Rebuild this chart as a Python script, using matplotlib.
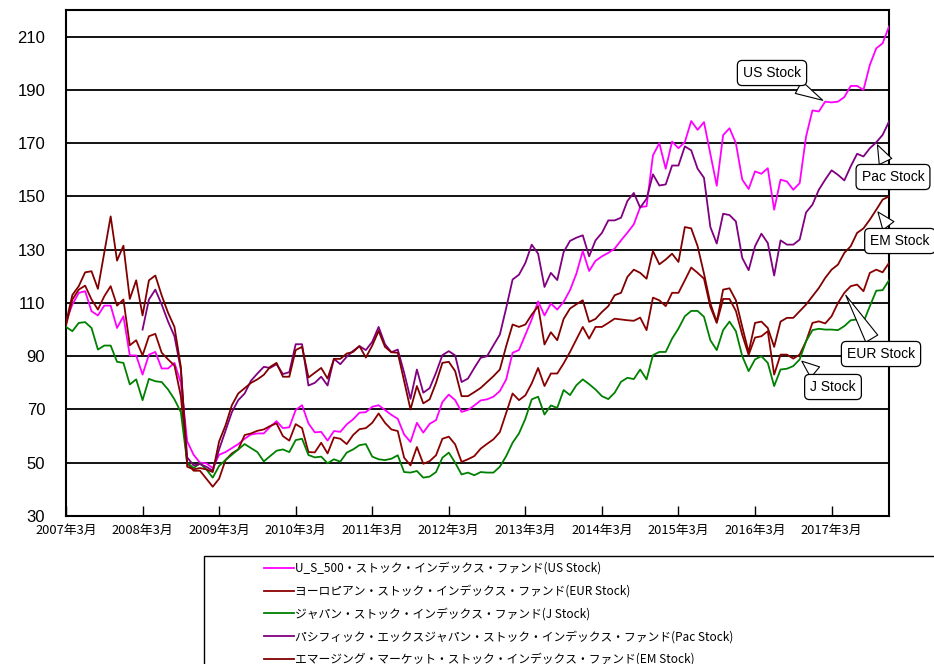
import matplotlib
matplotlib.use('Agg')
import matplotlib.pyplot as plt
from matplotlib.patches import Rectangle
import numpy as np

# monthly index values, 2007/3 .. 2017/12
us_stock = [103, 109.4, 113.8, 114.4, 106.9, 105.3, 109, 109, 100.6, 105,
            90.3, 90.3, 83.1, 90.6, 91.6, 85.4, 85.4, 87.5, 80, 58,
            53, 50, 49.8, 48, 53, 54, 55.5, 57, 59, 60.6,
            61, 61, 63.5, 65.6, 63, 63.3, 69.8, 71.6, 64.8, 61.4,
            61.6, 58.3, 61.9, 61.6, 64.4, 66.3, 68.8, 69, 71, 71.6,
            69.8, 68, 66.5, 60.6, 57.8, 65, 61.3, 64.6, 66, 72.8,
            75.6, 73.5, 69.1, 69.8, 71.5, 73.4, 73.8, 74.8, 76.9, 81.3,
            91.3, 92.3, 98.1, 103.8, 110.6, 105.3, 109.8, 107.5, 110.4, 114.8,
            121, 129.5, 122, 125.8, 127.5, 128.8, 130.4, 133.5, 136.4, 139.5,
            146, 146.3, 165.4, 170, 160.4, 170.6, 168.1, 170.4, 178.3, 175,
            177.9, 166, 154, 173, 175.6, 170, 156.3, 152.8, 159.4, 158.5,
            160.6, 145, 156.3, 155.6, 152.5, 155, 172.5, 182.3, 181.9, 185.6,
            185.3, 185.6, 187.3, 191.5, 191.5, 190, 199.4, 205.6, 207.5, 213.8]

eur_stock = [101.5, 111.3, 115, 116.5, 111.3, 107.5, 112.5, 116.3, 109, 111.3,
             94.1, 96, 90.3, 97.5, 98.4, 91.3, 88.8, 86.5, 75, 50,
             47, 47, 44, 41, 44, 51, 53.5, 55, 60.4, 61,
             62, 62.5, 63.8, 64.8, 60, 58.3, 64.5, 63, 54, 53.9,
             57.5, 53.5, 59.5, 59, 57, 60.4, 62.6, 63, 65, 68.5,
             65, 62.5, 61.9, 51.9, 49, 55.9, 49.6, 50.6, 52.8, 59,
             59.8, 56.9, 50.3, 51.3, 52.5, 55.3, 57.1, 58.8, 61.5, 68.8,
             76, 73.5, 75.3, 79.8, 85.6, 78.8, 83.5, 83.5, 87.3, 91.6,
             96.3, 101, 96.6, 101, 101, 102.5, 104.1, 103.8, 103.5, 103.3,
             104.5, 99.8, 112, 111, 108.8, 113.8, 113.8, 118.5, 123.3, 121.3,
             119.1, 108.5, 102.5, 111.5, 111.5, 107, 98, 90.5, 97, 97.5,
             99.4, 83.1, 90.6, 90.6, 89.1, 90.6, 95.6, 102.5, 103.1, 102.3,
             105, 110, 113.8, 116.3, 116.9, 114.4, 121.3, 122.5, 121.5, 125]

j_stock = [101, 99.4, 102.5, 102.8, 100.6, 92.5, 94, 94, 87.9, 87.5,
           79.4, 81.3, 73.5, 81.5, 80.6, 80.3, 77.5, 73.8, 69, 50,
           48, 49.8, 47.5, 44.4, 48.8, 51, 53, 55, 57, 55.5,
           54, 50.5, 52.5, 54.5, 55, 54, 58.5, 59, 52.9, 52,
           52.3, 49.8, 51.3, 50.4, 53.8, 55, 56.6, 57, 52.3, 51.3,
           51, 51.5, 52.8, 46.5, 46.3, 46.9, 44.4, 44.8, 46.5, 51.9,
           53.8, 50, 45.6, 46.3, 45.3, 46.5, 46.3, 46.3, 48.5, 52.5,
           57.5, 61, 66.5, 73.8, 74.8, 68.1, 71.5, 70.6, 77.3, 75.4,
           79.1, 81.3, 79.5, 77.5, 75, 73.9, 76.3, 80.4, 81.9, 81.4,
           85, 81.3, 90.4, 91.6, 91.6, 96.6, 100.4, 105, 107, 107,
           104.8, 96, 92.3, 99.8, 103, 99.4, 90, 84.4, 88.8, 90,
           87.5, 78.8, 85, 85.3, 86.3, 88.8, 95.6, 99.8, 100.3, 100,
           100, 99.8, 101.3, 103.5, 103.8, 102.8, 108.8, 114.6, 114.8, 118.5]

pac_stock = [None] * 12 + [
             100, 111.3, 115, 109.4, 103, 97.5, 85, 52,
             49, 49.5, 48.5, 47, 55, 62, 69, 73.5, 76, 80.8,
             83.5, 86, 85.6, 87, 83.3, 84, 94.5, 94.5, 79, 80,
             82.3, 79, 89, 87, 89.8, 92, 93.8, 92.3, 95.4, 101,
             94.5, 91.5, 92.5, 83.8, 74, 85, 76.3, 78, 83.8, 90.4,
             91.9, 90.3, 80.3, 81.6, 85.6, 89.4, 90, 94.1, 98.1, 108.1,
             118.8, 120.6, 125, 131.9, 128.5, 116, 121.3, 118.6, 129.1, 133.3,
             134.5, 135.4, 127.5, 133.5, 136.3, 141, 141, 142, 148.3, 151.3,
             145.8, 149.1, 158.3, 154.1, 154.5, 161.6, 161.6, 168.8, 167.3, 160.4,
             157, 138.5, 132.3, 143.5, 143, 140.6, 126.9, 122.3, 131.3, 136,
             132.5, 120.3, 133.5, 131.9, 131.9, 133.8, 144, 146.9, 152.5, 156.3,
             159.8, 158.1, 156, 161.3, 166, 165, 168.1, 170.3, 173.1, 178.1]

em_stock = [102.5, 113, 116.3, 121.5, 121.9, 115.3, 128.8, 142.5, 125.9, 131.5,
            111.5, 118.5, 105.3, 118.5, 120.3, 112.8, 106.3, 101, 86, 48.5,
            47.5, 48, 47.5, 46.5, 58, 64, 71.6, 76, 78, 80,
            81.3, 83, 86, 87.5, 82.3, 82.3, 92.3, 93.5, 82, 83.8,
            85.6, 81.6, 89, 89, 91, 91.6, 93.8, 89.5, 94, 99.5,
            93.5, 91.5, 91.3, 80.6, 70, 78.8, 72.3, 73.8, 80, 87.5,
            87.9, 84.4, 75, 75, 76.5, 78.1, 80.3, 82.5, 85, 93.8,
            101.9, 101, 101.9, 105.6, 108.8, 94.4, 99, 96, 104, 107.9,
            109.5, 111, 102.9, 104, 106.6, 108.8, 112.9, 113.8, 119.8, 122.5,
            121.3, 119.1, 129.5, 124.5, 126.3, 128.5, 125.4, 138.5, 138, 131.3,
            121, 109.8, 102.9, 115, 115.5, 111, 101, 91.5, 102.5, 103,
            100.6, 93.5, 103, 104.4, 104.4, 106.9, 109.4, 112.5, 115.6, 119.4,
            122.5, 124.4, 128.8, 131.3, 136.3, 138, 141.3, 145, 148.8, 150]

tick_labels = ['2007年3月', '2008年3月', '2009年3月', '2010年3月', '2011年3月',
               '2012年3月', '2013年3月', '2014年3月', '2015年3月', '2016年3月',
               '2017年3月']

legend_labels = ['U_S_500・ストック・インデックス・ファンド(US Stock)',
                 'ヨーロピアン・ストック・インデックス・ファンド(EUR Stock)',
                 'ジャパン・ストック・インデックス・ファンド(J Stock)',
                 'パシフィック・エックスジャパン・ストック・インデックス・ファンド(Pac Stock)',
                 'エマージング・マーケット・ストック・インデックス・ファンド(EM Stock)']

series = [us_stock, eur_stock, j_stock, pac_stock, em_stock]
colors = ['#ff00ff', '#8b0000', '#008000', '#800080', '#800000']

cjk = ['Noto Sans CJK JP', 'DejaVu Sans']

W, H = 934, 664
fig = plt.figure(figsize=(W / 100, H / 100), dpi=100)
ax = fig.add_axes([66 / W, 1 - 516 / H, (889 - 66) / W, (516 - 10) / H])

x = np.arange(len(us_stock))
handles = []
for vals, col in zip(series, colors):
    y = np.array([np.nan if v is None else v for v in vals], dtype=float)
    line, = ax.plot(x, y, color=col, lw=1.3, zorder=3)
    handles.append(line)

ax.set_xlim(0, len(us_stock) - 1)
ax.set_ylim(30, 220)
ax.set_yticks(range(30, 211, 20))
ax.yaxis.grid(True, color='black', lw=1.3, zorder=1)
ax.set_axisbelow(True)
ax.tick_params(axis='y', length=0, pad=15, labelsize=12)
for lab in ax.get_yticklabels():
    lab.set_family('Liberation Sans')
    lab.set_va('center_baseline')

ax.set_xticks(np.arange(0, len(us_stock), 12))
ax.set_xticklabels(tick_labels, family=cjk, fontsize=9.3)
ax.tick_params(axis='x', direction='in', length=7, width=1, pad=5.5)
for sp in ax.spines.values():
    sp.set_color('black')
    sp.set_linewidth(1.5)

# callouts
callouts = [('US Stock', us_stock, 119, (772, 73)),
            ('Pac Stock', pac_stock, 127, (893, 177)),
            ('EM Stock', em_stock, 127, (900, 241)),
            ('EUR Stock', eur_stock, 122, (881, 354)),
            ('J Stock', j_stock, 115, (833, 387))]
for text, vals, idx, (tx, ty) in callouts:
    ax.annotate(text, xy=(idx, vals[idx]), xytext=(tx, H - ty),
                textcoords='figure pixels', ha='center', va='center',
                family='Liberation Sans', fontsize=10, zorder=5,
                bbox=dict(boxstyle='round,pad=0.4,rounding_size=0.35',
                          fc='white', ec='black', lw=0.9),
                arrowprops=dict(arrowstyle='wedge,tail_width=1.0,shrink_factor=0.5',
                                fc='white', ec='black', lw=0.8),
                annotation_clip=False)

# legend box running off the bottom/right edge
fig.patches.append(Rectangle((204 / W, -0.05), 1.0, 0.05 + 1 - 556 / H,
                             transform=fig.transFigure, fill=False,
                             ec='black', lw=1))
fig.legend(handles, legend_labels, loc='upper left',
           bbox_to_anchor=(264 / W, 1 - 562 / H), frameon=False,
           prop={'family': cjk, 'size': 8.5}, handlelength=2.5,
           handletextpad=0.1, labelspacing=0.82, borderaxespad=0,
           borderpad=0)

fig.savefig('out.png', dpi=100)
